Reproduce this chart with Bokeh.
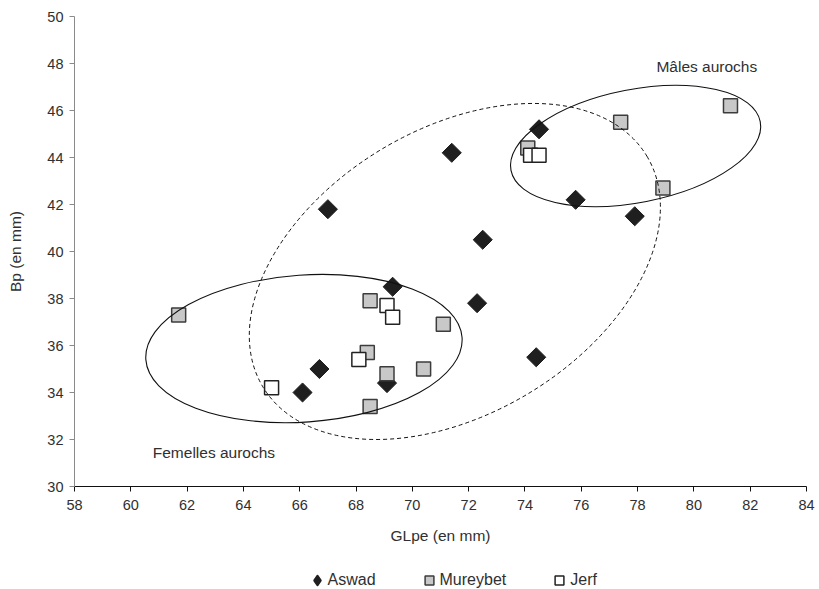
import math

from bokeh.plotting import figure
from bokeh.layouts import column
from bokeh.models import Range1d, FixedTicker, Legend, LegendItem
from bokeh.core.properties import value
from bokeh.embed import file_html
from bokeh.resources import INLINE

# Aurochs first phalanges: GLpe (greatest length) vs Bp (proximal breadth), in mm
aswad_glpe = [66.1, 66.7, 67.0, 69.1, 69.3, 71.4, 72.5, 72.3, 74.4, 74.5, 75.8, 77.9]
aswad_bp = [34.0, 35.0, 41.8, 34.4, 38.5, 44.2, 40.5, 37.8, 35.5, 45.2, 42.2, 41.5]

mureybet_glpe = [61.7, 68.5, 71.1, 68.4, 69.1, 70.4, 68.5, 77.4, 78.9, 74.1, 81.3]
mureybet_bp = [37.3, 37.9, 36.9, 35.7, 34.8, 35.0, 33.4, 45.5, 42.7, 44.4, 46.2]

jerf_glpe = [65.0, 68.1, 69.1, 69.3, 74.2, 74.5]
jerf_bp = [34.2, 35.4, 37.7, 37.2, 44.1, 44.1]

series_names = ["Aswad", "Mureybet", "Jerf"]

x_ticks = [58, 60, 62, 64, 66, 68, 70, 72, 74, 76, 78, 80, 82, 84]
y_ticks = [30, 32, 34, 36, 38, 40, 42, 44, 46, 48, 50]

FONT = "Liberation Sans"
TEXT = "#303030"

# marker styles per series
STYLES = [
    dict(marker="square", angle=math.pi / 4, fill_color="#1f1f1f",
         line_color="#1f1f1f", line_width=1),
    dict(marker="square", fill_color="#c8c8c8", line_color="#3c3c3c",
         line_width=1.5),
    dict(marker="square", fill_color="white", line_color="#222222",
         line_width=1.5),
]
SIZES = [13.5, 14, 14]

# legend keys are drawn unrotated, so the diamond gets its own marker there
KEY_STYLES = [
    dict(marker="diamond", fill_color="#1f1f1f", line_color="#1f1f1f",
         line_width=2.6, line_join="round"),
    STYLES[1],
    STYLES[2],
]

p = figure(
    width=819, height=560,
    x_range=Range1d(58, 84), y_range=Range1d(30, 50),
    output_backend="svg", toolbar_location=None,
    min_border_left=74, min_border_right=13,
    min_border_top=16, min_border_bottom=74,
)
p.outline_line_color = None
p.xgrid.visible = False
p.ygrid.visible = False
p.background_fill_color = "white"
p.border_fill_color = "white"

# axes
p.xaxis.ticker = FixedTicker(ticks=x_ticks)
p.yaxis.ticker = FixedTicker(ticks=y_ticks)
p.xaxis.axis_label = "GLpe (en mm)"
p.yaxis.axis_label = "Bp (en mm)"
for ax in (p.xaxis[0], p.yaxis[0]):
    ax.major_tick_in = 0
    ax.major_tick_out = 5
    ax.minor_tick_in = 0
    ax.minor_tick_out = 0
    ax.major_label_text_font = FONT
    ax.major_label_text_font_size = "14.5px"
    ax.major_label_text_color = TEXT
    ax.axis_label_text_font = FONT
    ax.axis_label_text_font_size = "15.5px"
    ax.axis_label_text_font_style = "normal"
    ax.axis_label_text_color = TEXT
p.xaxis.axis_line_color = "#111111"
p.xaxis.major_tick_line_color = "#111111"
p.yaxis.axis_line_color = "#8a8a8a"
p.yaxis.major_tick_line_color = "#8a8a8a"
p.xaxis.major_label_standoff = 8
p.xaxis.axis_label_standoff = 14
p.yaxis.major_label_standoff = 6
p.yaxis.axis_label_standoff = 20

# series markers (drawn in order so later series sit on top)
for (xs, ys), style, size in zip(
        [(aswad_glpe, aswad_bp), (mureybet_glpe, mureybet_bp), (jerf_glpe, jerf_bp)],
        STYLES, SIZES):
    p.scatter(xs, ys, size=size, **style)

# group outlines (centre in data units, axes in screen pixels)
p.ellipse(x=[66.15], y=[35.87], width=317, height=147, angle=math.radians(4.0),
          width_units="screen", height_units="screen",
          fill_color=None, line_color="#111111", line_width=1.1)
p.ellipse(x=[77.93], y=[44.49], width=254, height=113, angle=math.radians(11.1),
          width_units="screen", height_units="screen",
          fill_color=None, line_color="#111111", line_width=1.1)
p.ellipse(x=[71.51], y=[39.15], width=448, height=285, angle=math.radians(31.0),
          width_units="screen", height_units="screen",
          fill_color=None, line_color="#111111", line_width=1,
          line_dash="4 3")

p.text(x=[78.67], y=[47.89], text=["Mâles aurochs"],
       text_font=value(FONT), text_font_size="15.5px", text_color=TEXT,
       text_baseline="middle", text_align="left")
p.text(x=[60.78], y=[31.46], text=["Femelles aurochs"],
       text_font=value(FONT), text_font_size="15.5px", text_color=TEXT,
       text_baseline="middle", text_align="left")

# legend strip under the chart; its key glyphs hold no drawable point
leg = figure(
    width=819, height=29, x_range=Range1d(0, 1), y_range=Range1d(0, 1),
    output_backend="svg", toolbar_location=None,
    x_axis_type=None, y_axis_type=None,
    min_border=0, min_border_left=0, min_border_right=0,
    min_border_top=0, min_border_bottom=0,
)
leg.outline_line_color = None
leg.xgrid.visible = False
leg.ygrid.visible = False
items = []
for name, style in zip(series_names, KEY_STYLES):
    r = leg.scatter([float("nan")], [float("nan")], **style)
    items.append(LegendItem(label=name, renderers=[r]))

legend = Legend(
    items=items,
    orientation="horizontal",
    location=(231.5, -2),
    glyph_width=22, glyph_height=22,
    label_standoff=0, spacing=42,
    label_text_font=FONT, label_text_font_size="16px",
    label_text_color=TEXT,
    padding=0, margin=0,
    border_line_color=None, background_fill_alpha=0,
)
leg.add_layout(legend, "center")

open("out.html", "w").write(file_html(column(p, leg), INLINE))
